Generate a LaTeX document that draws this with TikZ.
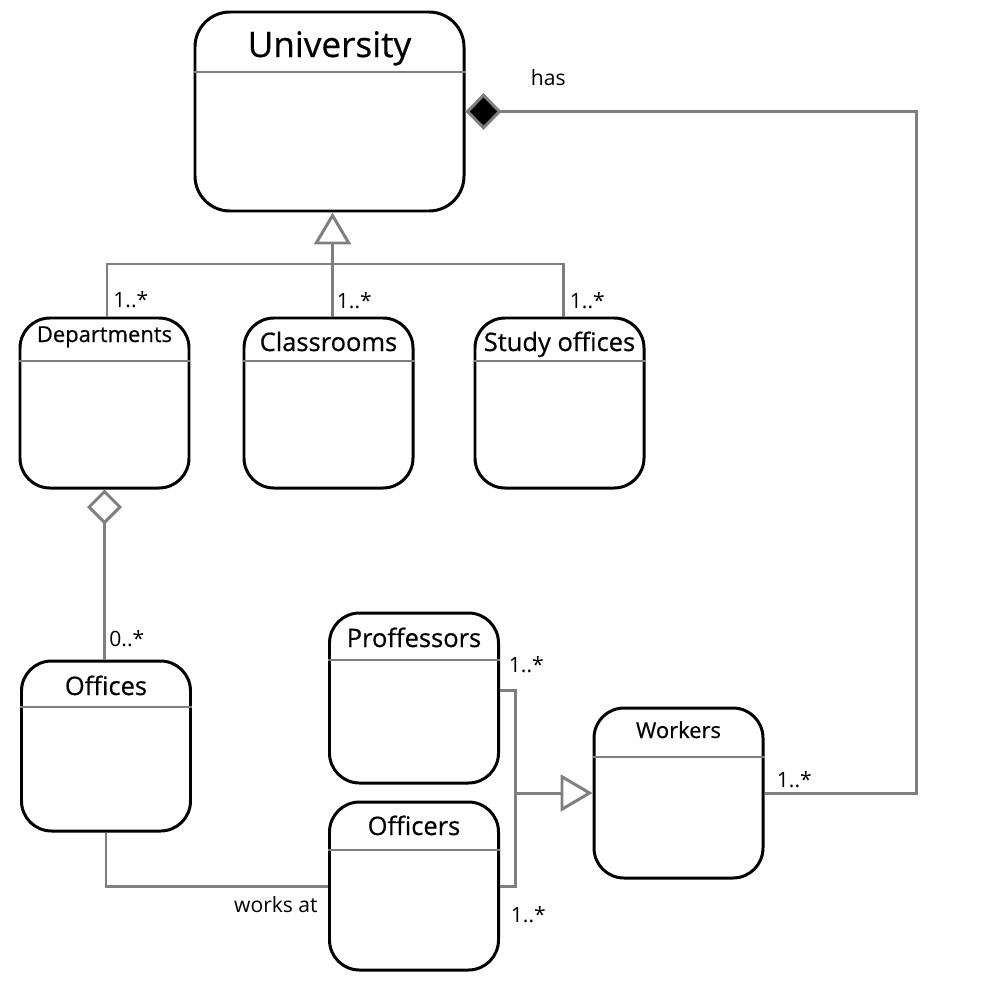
\documentclass[tikz,border=0pt]{standalone}
\usepackage{fontspec}
\setmainfont{Open Sans}
\newfontfamily\titlefont{Open Sans}[FakeBold=0.6]
\definecolor{umlgrau}{HTML}{7F7F7F}
\usetikzlibrary{arrows.meta, positioning}

\begin{document}
\begin{tikzpicture}[
    x=0.2mm, y=-0.2mm,
    cls/.style={rectangle, draw=black, line width=1.7pt, rounded corners=6mm,
                minimum width=33.8mm, minimum height=34mm, inner sep=0pt},
    ttl/.style={font=\titlefont\fontsize{14.5}{17}\selectfont, inner sep=0pt, anchor=base},
    ttlsmall/.style={ttl, font=\titlefont\fontsize{12.5}{15}\selectfont},
    mult/.style={font=\fontsize{12}{14}\selectfont, inner sep=0pt},
    conn/.style={draw=umlgrau, line width=1.7pt},
    sep/.style={draw=umlgrau, line width=1.5pt},
    composite/.style={{Diamond[fill=black, length=7.2mm, width=7.4mm]}-},
    aggregate/.style={{Diamond[open, fill=white, length=7mm, width=7mm]}-},
    inherit/.style={-{Triangle[open, fill=white, length=6.4mm, width=7.4mm]}}
  ]
  \useasboundingbox (0,0) rectangle (1000,1000);
  % classes
  \node[cls, minimum width=53.8mm, minimum height=39.8mm, rounded corners=7mm]
    (univ) at (329.5,111.5) {};
  \node[cls] (depts) at (104.5,403) {};
  \node[cls] (class) at (328.5,403) {};
  \node[cls] (study) at (559.5,403) {};
  \node[cls] (offices) at (106,746) {};
  \node[cls] (prof) at (414,698) {};
  \node[cls, minimum height=33.6mm] (officers) at (414,886) {};
  \node[cls] (workers) at (678.5,793) {};
  \foreach \n/\y in {univ/72, depts/361, class/361, study/361,
                     offices/707, prof/660, officers/850, workers/757}
    \draw[sep] (\n.west |- 0,\y) -- (\n.east |- 0,\y);

  % titles
  \node[ttl, font=\titlefont\fontsize{20}{24}\selectfont] (univT) at (329.5,57) {University};
  \node[ttlsmall] (deptsT) at (104.5,342) {Departments};
  \node[ttl] (classT) at (328.5,351) {Classrooms};
  \node[ttl] (studyT) at (559.5,351) {Study offices};
  \node[ttl] (officesT) at (106,695) {Offices};
  \node[ttl] (profT) at (414,647) {Proffessors};
  \node[ttl] (officersT) at (414,835) {Officers};
  \node[ttlsmall] (workersT) at (678.5,738) {Workers};

  % connectors
  \coordinate (bar) at (0,264);
  \coordinate (turn) at (916,111.5);
  \coordinate (fork) at (515,793);
  \draw[conn, composite] (univ.east) -- (turn) |- (workers.east);
  \draw[conn, inherit] ([xshift=0.8mm]class.north) -- ([xshift=0.8mm]class.north |- univ.south);
  \draw[conn] ([xshift=0.5mm]depts.north) |- ([xshift=0.7mm]bar -| study.north)
    -- ([xshift=0.7mm]study.north);
  \draw[conn, aggregate] (depts.south) -- (depts.south |- offices.north);
  \draw[conn] (offices.south) |- (officers.west);
  \draw[conn] ([yshift=1.6mm]prof.east) -| (fork) |- (officers.east);
  \draw[conn, inherit] (fork) -- (workers.west);

  % labels
  \node[mult, above right=1.6mm and 1.7mm of depts.north] (mDepts) {1..*};
  \node[mult, above right=1.5mm and 1.6mm of class.north] (mClass) {1..*};
  \node[mult, above right=1.5mm and 2mm of study.north] (mStudy) {1..*};
  \node[mult, above right=2.4mm and 0.6mm of offices.north] (mOffices) {0..*};
  \node[mult, above right=5mm and 1.7mm of prof.east] (mProf) {1..*};
  \node[mult, below right=4.1mm and 2.1mm of officers.east] (mOfficers) {1..*};
  \node[mult, above right=1mm and 2.4mm of workers.east] (mWorkers) {1..*};
  \node[mult, above right=5.1mm and 13mm of univ.east] (has) {has};
  \node[mult, below left=2mm and 2mm of officers.west] (worksat) {works at};
\end{tikzpicture}
\end{document}
